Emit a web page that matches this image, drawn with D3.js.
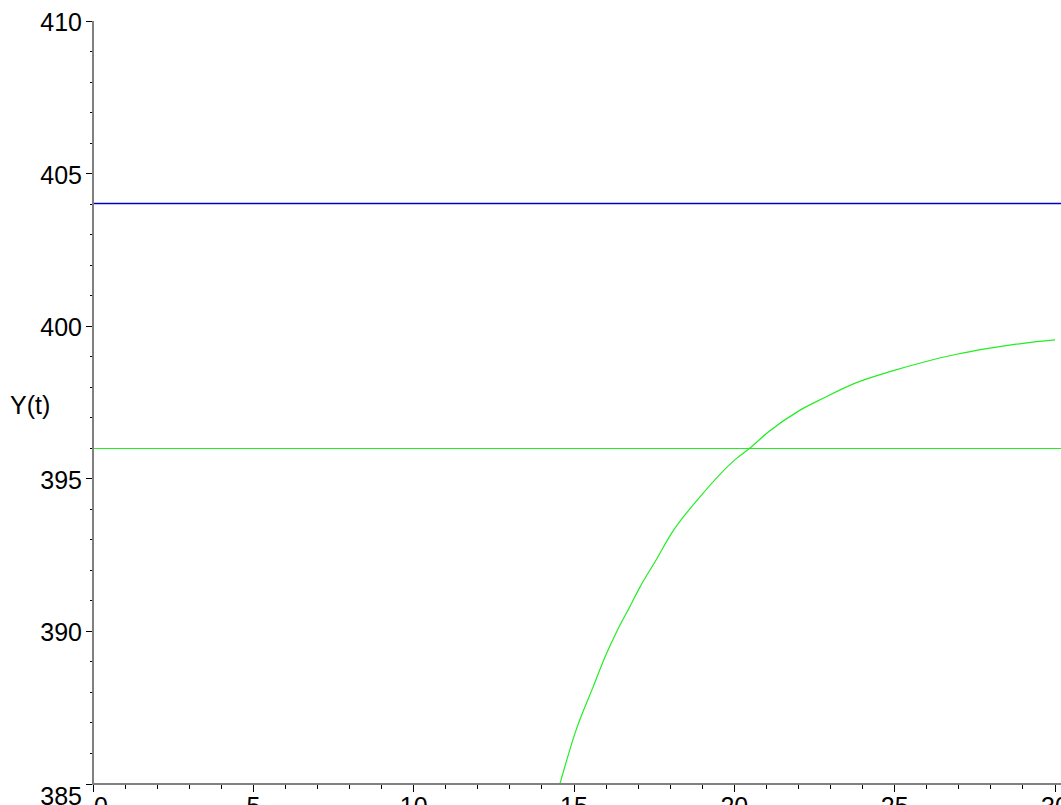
<!DOCTYPE html>
<html>
<head>
<meta charset="utf-8">
<script src="https://cdn.jsdelivr.net/npm/d3@7"></script>
<style>
  html, body { margin: 0; padding: 0; background: #fff; overflow: hidden; }
  svg { display: block; }
  text { font-family: "Liberation Sans", Arial, sans-serif; fill: #000; }
</style>
</head>
<body>
<svg id="chart" width="1061" height="805"></svg>
<script>
// ---- data ----
const xDomain = [0, 30];
const yDomain = [385, 410];
const xTickLabels = [0, 5, 10, 15, 20, 25, 30];
const yTickLabels = [385, 390, 395, 400, 405, 410];
const yLabel = "Y(t)";
const blueLevel = 404;
const greenLevel = 396;
const curveT = [14.56, 15.03, 15.60, 15.97, 16.33, 16.74, 17.06, 17.56, 18.04, 18.93,
                20.07, 20.48, 21.01, 22.05, 22.77, 23.81, 24.85, 25.89, 26.93, 27.97, 29.01, 30];
const curveY = [385.0, 386.66, 388.19, 389.17, 389.99, 390.81, 391.46, 392.34, 393.21, 394.41,
                395.67, 396.0, 396.49, 397.25, 397.64, 398.15, 398.51, 398.82, 399.08, 399.28, 399.44, 399.55];

// ---- layout ----
const svg = d3.select("#chart");
const x = d3.scaleLinear().domain(xDomain).range([93, 1055]);
const y = d3.scaleLinear().domain(yDomain).range([784, 21]);
const crisp = v => Math.floor(v) + 0.5;

svg.append("defs").append("clipPath").attr("id", "plotClip")
  .append("rect").attr("x", x(0)).attr("y", y(410) - 2)
  .attr("width", 1061 - x(0)).attr("height", y(385) - y(410) + 2);

// horizontal reference lines
svg.append("line")
  .attr("x1", x(0)).attr("x2", 1061)
  .attr("y1", crisp(y(blueLevel)) - 1).attr("y2", crisp(y(blueLevel)) - 1)
  .attr("stroke", "#0000cc").attr("stroke-width", 1.5);
svg.append("line")
  .attr("x1", x(0)).attr("x2", 1061)
  .attr("y1", crisp(y(greenLevel))).attr("y2", crisp(y(greenLevel)))
  .attr("stroke", "#22ee22").attr("stroke-width", 1.2);

// curve
const pts = curveT.map((t, i) => [t, curveY[i]]);
svg.append("path")
  .datum(pts)
  .attr("clip-path", "url(#plotClip)")
  .attr("fill", "none")
  .attr("stroke", "#22ee22")
  .attr("stroke-width", 1.2)
  .attr("d", d3.line().x(d => x(d[0])).y(d => y(d[1])).curve(d3.curveMonotoneX));

// ticks
const g = svg.append("g");
// y ticks (minor every 1, major every 5)
d3.range(385, 411, 1).forEach(v => {
  const major = v % 5 === 0;
  g.append("line")
    .attr("x1", x(0) - (major ? 7 : 3)).attr("x2", x(0))
    .attr("y1", crisp(y(v))).attr("y2", crisp(y(v)))
    .attr("stroke", "#000").attr("stroke-width", 1);
});
// x ticks
d3.range(0, 31, 1).forEach(v => {
  const major = v % 5 === 0;
  g.append("line")
    .attr("x1", crisp(x(v))).attr("x2", crisp(x(v)))
    .attr("y1", y(385)).attr("y2", y(385) + (major ? 8 : 5))
    .attr("stroke", "#000").attr("stroke-width", 1);
});

// axis lines
svg.append("line")
  .attr("x1", x(0)).attr("x2", x(0))
  .attr("y1", y(410)).attr("y2", y(385) + 1)
  .attr("stroke", "#808080").attr("stroke-width", 2);
svg.append("line")
  .attr("x1", x(0) - 1).attr("x2", 1061)
  .attr("y1", y(385)).attr("y2", y(385))
  .attr("stroke", "#808080").attr("stroke-width", 2);

// y tick labels (the lowest one sits lower, as in the reference)
svg.selectAll(".ylab").data(yTickLabels).enter().append("text")
  .attr("x", x(0) - 11)
  .attr("y", d => y(d) + (d === 385 ? 21 : 10))
  .attr("text-anchor", "end")
  .attr("font-size", 25)
  .text(d => d);

// x tick labels (cut off at the bottom edge)
svg.selectAll(".xlab").data(xTickLabels).enter().append("text")
  .attr("x", d => x(d) + (d === 0 ? 8 : 0))
  .attr("y", 815)
  .attr("text-anchor", "middle")
  .attr("font-size", 25)
  .text(d => d);

// y axis label
svg.append("text")
  .attr("x", 10).attr("y", 414)
  .attr("font-size", 25)
  .text(yLabel);
</script>
</body>
</html>
